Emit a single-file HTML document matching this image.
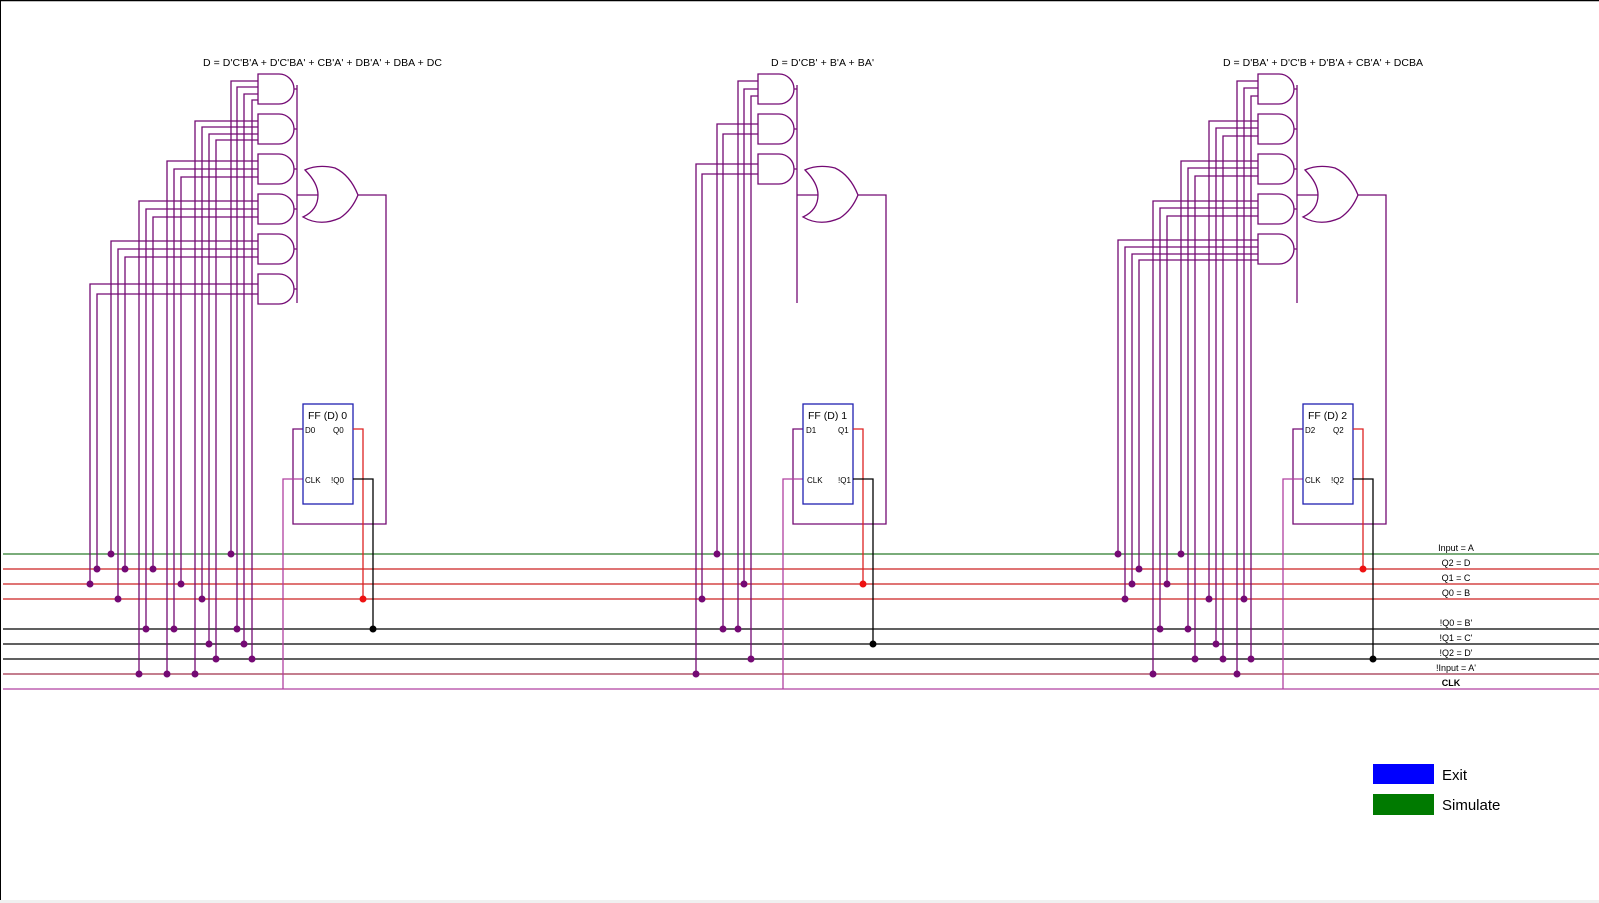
<!DOCTYPE html>
<html><head><meta charset="utf-8"><style>
html,body{margin:0;padding:0;background:#fff;width:1599px;height:903px;overflow:hidden}
svg{display:block}
text{font-family:"Liberation Sans",Arial,sans-serif}
</style></head><body>
<svg width="1599" height="903" viewBox="0 0 1599 903" xmlns="http://www.w3.org/2000/svg">
<rect x="0" y="900" width="1599" height="3" fill="#f0f0f0"/>
<line x1="0" y1="0.5" x2="1599" y2="0.5" stroke="#000" stroke-width="1.5"/>
<line x1="0.5" y1="0" x2="0.5" y2="900" stroke="#000" stroke-width="1"/>

<!-- bus lines -->
<g stroke-width="1.3">
<line x1="3" y1="554" x2="1599" y2="554" stroke="#2a7a2a"/>
<line x1="3" y1="569" x2="1599" y2="569" stroke="#cc2222"/>
<line x1="3" y1="584" x2="1599" y2="584" stroke="#cc2222"/>
<line x1="3" y1="599" x2="1599" y2="599" stroke="#cc2222"/>
<line x1="3" y1="629" x2="1599" y2="629" stroke="#000"/>
<line x1="3" y1="644" x2="1599" y2="644" stroke="#000"/>
<line x1="3" y1="659" x2="1599" y2="659" stroke="#000"/>
<line x1="3" y1="674" x2="1599" y2="674" stroke="#a0304a"/>
<line x1="3" y1="689" x2="1599" y2="689" stroke="#b040a0"/>
</g>
<g font-size="9" text-anchor="middle" fill="#000">
<text x="1456" y="551">Input = A</text>
<text x="1456" y="566">Q2 = D</text>
<text x="1456" y="581">Q1 = C</text>
<text x="1456" y="596">Q0 = B</text>
<text x="1456" y="626">!Q0 = B'</text>
<text x="1456" y="641">!Q1 = C'</text>
<text x="1456" y="656">!Q2 = D'</text>
<text x="1456" y="671">!Input = A'</text>
<text x="1451" y="686" font-weight="bold">CLK</text>
</g>

<!-- titles -->
<g font-size="10.5" fill="#000">
<text x="203" y="66" textLength="239">D = D'C'B'A + D'C'BA' + CB'A' + DB'A' + DBA + DC</text>
<text x="771" y="66" textLength="103">D = D'CB' + B'A + BA'</text>
<text x="1223" y="66" textLength="200">D = D'BA' + D'C'B + D'B'A + CB'A' + DCBA</text>
</g>

<!-- purple input wires -->
<g fill="none" stroke="#740a74" stroke-width="1.3">
<path d="M231,554V81H258 M237,629V87H258 M244,644V94H258 M252,659V100H258"/>
<path d="M195,674V121H258 M202,599V127H258 M209,644V134H258 M216,659V140H258"/>
<path d="M167,674V161H258 M174,629V169H258 M181,584V177H258"/>
<path d="M139,674V201H258 M146,629V209H258 M153,569V217H258"/>
<path d="M111,554V241H258 M118,599V249H258 M125,569V257H258"/>
<path d="M90,584V284H258 M97,569V294H258"/>
<path d="M738,629V81H758 M744,584V89H758 M751,659V96H758"/>
<path d="M717,554V124H758 M723,629V134H758"/>
<path d="M696,674V164H758 M702,599V174H758"/>
<path d="M1237,674V81H1258 M1244,599V88H1258 M1251,659V96H1258"/>
<path d="M1209,599V121H1258 M1216,644V128H1258 M1223,659V136H1258"/>
<path d="M1181,554V161H1258 M1188,629V168H1258 M1195,659V176H1258"/>
<path d="M1153,674V201H1258 M1160,629V208H1258 M1167,584V216H1258"/>
<path d="M1118,554V240H1258 M1125,599V247H1258 M1132,584V254H1258 M1139,569V260H1258"/>
</g>

<!-- dots -->
<g fill="#740a74">
<circle cx="231" cy="554" r="3.5"/><circle cx="237" cy="629" r="3.5"/><circle cx="244" cy="644" r="3.5"/><circle cx="252" cy="659" r="3.5"/>
<circle cx="195" cy="674" r="3.5"/><circle cx="202" cy="599" r="3.5"/><circle cx="209" cy="644" r="3.5"/><circle cx="216" cy="659" r="3.5"/>
<circle cx="167" cy="674" r="3.5"/><circle cx="174" cy="629" r="3.5"/><circle cx="181" cy="584" r="3.5"/>
<circle cx="139" cy="674" r="3.5"/><circle cx="146" cy="629" r="3.5"/><circle cx="153" cy="569" r="3.5"/>
<circle cx="111" cy="554" r="3.5"/><circle cx="118" cy="599" r="3.5"/><circle cx="125" cy="569" r="3.5"/>
<circle cx="90" cy="584" r="3.5"/><circle cx="97" cy="569" r="3.5"/>
<circle cx="738" cy="629" r="3.5"/><circle cx="744" cy="584" r="3.5"/><circle cx="751" cy="659" r="3.5"/>
<circle cx="717" cy="554" r="3.5"/><circle cx="723" cy="629" r="3.5"/>
<circle cx="696" cy="674" r="3.5"/><circle cx="702" cy="599" r="3.5"/>
<circle cx="1237" cy="674" r="3.5"/><circle cx="1244" cy="599" r="3.5"/><circle cx="1251" cy="659" r="3.5"/>
<circle cx="1209" cy="599" r="3.5"/><circle cx="1216" cy="644" r="3.5"/><circle cx="1223" cy="659" r="3.5"/>
<circle cx="1181" cy="554" r="3.5"/><circle cx="1188" cy="629" r="3.5"/><circle cx="1195" cy="659" r="3.5"/>
<circle cx="1153" cy="674" r="3.5"/><circle cx="1160" cy="629" r="3.5"/><circle cx="1167" cy="584" r="3.5"/>
<circle cx="1118" cy="554" r="3.5"/><circle cx="1125" cy="599" r="3.5"/><circle cx="1132" cy="584" r="3.5"/><circle cx="1139" cy="569" r="3.5"/>
</g>

<g fill="#fff" stroke="#740a74" stroke-width="1.3">
<path d="M258,74H279A15,15 0 0 1 279,104H258Z M294,89H297"/>
<path d="M258,114H279A15,15 0 0 1 279,144H258Z M294,129H297"/>
<path d="M258,154H279A15,15 0 0 1 279,184H258Z M294,169H297"/>
<path d="M258,194H279A15,15 0 0 1 279,224H258Z M294,209H297"/>
<path d="M258,234H279A15,15 0 0 1 279,264H258Z M294,249H297"/>
<path d="M258,274H279A15,15 0 0 1 279,304H258Z M294,289H297"/>
<path d="M297,85V303 M297,195H318" fill="none"/>
<path d="M305,170Q318,183 318,195Q318,210 303,217Q320,227 340,218Q352,210 358,195Q350,175 335,168Q318,164 305,170Z"/>
<path d="M358,195H386V524H293V429H303" fill="none"/>
<path d="M303,479H283V689" fill="none" stroke="#b040a0"/>
</g>
<g fill="#fff" stroke="#740a74" stroke-width="1.3">
<path d="M758,74H779A15,15 0 0 1 779,104H758Z M794,89H797"/>
<path d="M758,114H779A15,15 0 0 1 779,144H758Z M794,129H797"/>
<path d="M758,154H779A15,15 0 0 1 779,184H758Z M794,169H797"/>
<path d="M797,85V303 M797,195H818" fill="none"/>
<path d="M805,170Q818,183 818,195Q818,210 803,217Q820,227 840,218Q852,210 858,195Q850,175 835,168Q818,164 805,170Z"/>
<path d="M858,195H886V524H793V429H803" fill="none"/>
<path d="M803,479H783V689" fill="none" stroke="#b040a0"/>
</g>
<g fill="#fff" stroke="#740a74" stroke-width="1.3">
<path d="M1258,74H1279A15,15 0 0 1 1279,104H1258Z M1294,89H1297"/>
<path d="M1258,114H1279A15,15 0 0 1 1279,144H1258Z M1294,129H1297"/>
<path d="M1258,154H1279A15,15 0 0 1 1279,184H1258Z M1294,169H1297"/>
<path d="M1258,194H1279A15,15 0 0 1 1279,224H1258Z M1294,209H1297"/>
<path d="M1258,234H1279A15,15 0 0 1 1279,264H1258Z M1294,249H1297"/>
<path d="M1297,85V303 M1297,195H1318" fill="none"/>
<path d="M1305,170Q1318,183 1318,195Q1318,210 1303,217Q1320,227 1340,218Q1352,210 1358,195Q1350,175 1335,168Q1318,164 1305,170Z"/>
<path d="M1358,195H1386V524H1293V429H1303" fill="none"/>
<path d="M1303,479H1283V689" fill="none" stroke="#b040a0"/>
</g>

<g fill="none" stroke-width="1.3">
<rect x="303" y="404" width="50" height="100" stroke="#2020b0" fill="#fff"/>
<path d="M353,429H363V599" stroke="#dd2222"/>
<path d="M353,479H373V629" stroke="#000"/>
<rect x="803" y="404" width="50" height="100" stroke="#2020b0" fill="#fff"/>
<path d="M853,429H863V584" stroke="#dd2222"/>
<path d="M853,479H873V644" stroke="#000"/>
<rect x="1303" y="404" width="50" height="100" stroke="#2020b0" fill="#fff"/>
<path d="M1353,429H1363V569" stroke="#dd2222"/>
<path d="M1353,479H1373V659" stroke="#000"/>
</g>
<circle cx="363" cy="599" r="3.5" fill="#ee1111"/><circle cx="373" cy="629" r="3.5" fill="#000"/>
<circle cx="863" cy="584" r="3.5" fill="#ee1111"/><circle cx="873" cy="644" r="3.5" fill="#000"/>
<circle cx="1363" cy="569" r="3.5" fill="#ee1111"/><circle cx="1373" cy="659" r="3.5" fill="#000"/>
<g fill="#000">
<text x="308" y="419" font-size="10.5">FF (D) 0</text>
<text x="305" y="433" font-size="8">D0</text><text x="333" y="433" font-size="8">Q0</text>
<text x="305" y="483" font-size="8">CLK</text><text x="331" y="483" font-size="8">!Q0</text>
<text x="808" y="419" font-size="10.5">FF (D) 1</text>
<text x="806" y="433" font-size="8">D1</text><text x="838" y="433" font-size="8">Q1</text>
<text x="807" y="483" font-size="8">CLK</text><text x="838" y="483" font-size="8">!Q1</text>
<text x="1308" y="419" font-size="10.5">FF (D) 2</text>
<text x="1305" y="433" font-size="8">D2</text><text x="1333" y="433" font-size="8">Q2</text>
<text x="1305" y="483" font-size="8">CLK</text><text x="1331" y="483" font-size="8">!Q2</text>
</g>

<rect x="1373" y="764" width="61" height="20" fill="#0000ff"/>
<rect x="1373" y="794" width="61" height="21" fill="#007a00"/>
<text x="1442" y="780" font-size="15" fill="#000">Exit</text>
<text x="1442" y="810" font-size="15" fill="#000">Simulate</text>
</svg>
</body></html>
